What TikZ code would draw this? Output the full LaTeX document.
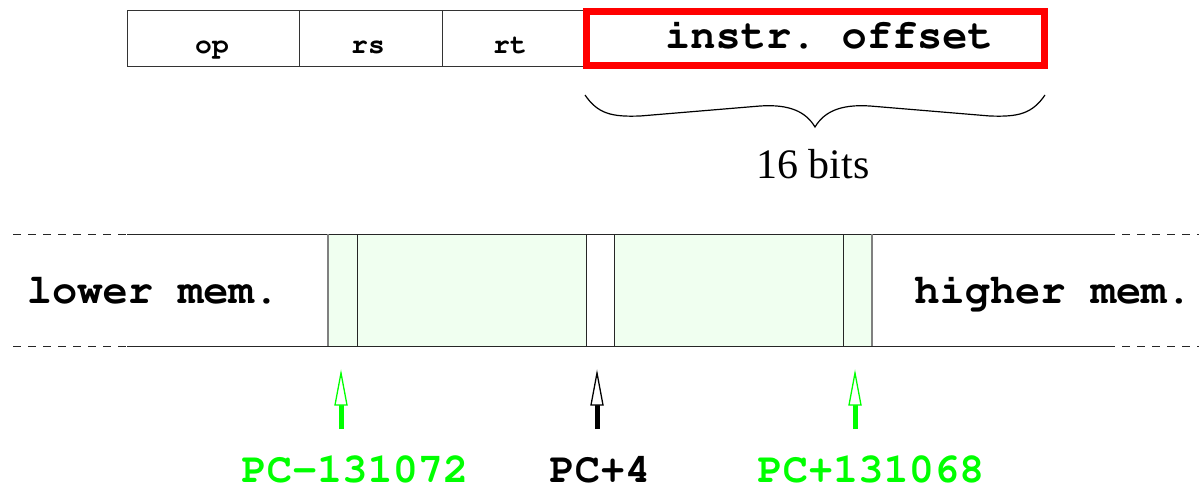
\documentclass[tikz,border=0pt]{standalone}
\usepackage[T1]{fontenc}
\usepackage{fontspec}
\setmainfont{Liberation Serif}
\newcommand\courbold{\fontencoding{T1}\fontfamily{pcr}\fontseries{b}\selectfont\frenchspacing}
\definecolor{pcgreen}{RGB}{0,255,0}
\definecolor{memfill}{RGB}{240,255,240}
\definecolor{edgegray}{gray}{0.5}

\begin{document}
\begin{tikzpicture}[x=1pt,y=-1pt,
  field/.style={draw=black!80, line width=0.8pt, minimum height=56pt, inner sep=0pt},
  fieldtext/.style={font=\courbold\fontsize{28}{30}\selectfont, anchor=base, inner sep=0pt},
  bigtext/.style={font=\courbold\fontsize{42}{46}\selectfont, anchor=base, inner sep=0pt},
  memline/.style={black!85, line width=0.8pt},
  memdash/.style={black!85, line width=0.8pt, dash pattern=on 8pt off 7pt},
  divider/.style={black!85, line width=0.8pt},
  outerdivider/.style={edgegray, line width=1.2pt},
]
\useasboundingbox (0,0) rectangle (1199,490);

% instruction word
\node[field, minimum width=172pt] (op) at (213,38) {};
\node[field, minimum width=143pt] (rs) at (370.5,38) {};
\node[field, minimum width=141pt] (rt) at (512.5,38) {};
\node[fieldtext] (optxt) at (212,53) {op};
\node[fieldtext] (rstxt) at (368,53) {rs};
\node[fieldtext] (rttxt) at (510,53) {rt};
\node[draw=red, line width=7pt, minimum width=458pt, minimum height=54pt, inner sep=0pt] (off) at (815,38) {};
\node[bigtext] (offtxt) at (829,48) {instr. offset};

% brace under the offset field
\draw[line width=1.2pt] (585,95) .. controls (598,114) and (612,117) .. (640,116)
  -- (760,106) .. controls (790,104) and (806,112) .. (815,127)
  .. controls (824,112) and (840,104) .. (870,106)
  -- (990,116) .. controls (1018,117) and (1032,114) .. (1045,95);
\node[font=\fontsize{42}{46}\selectfont, anchor=base, inner sep=0pt] (bits) at (813,178) {16 bits};

% memory strip
\fill[memfill] (328,234) rectangle (586,346);
\fill[memfill] (614,234) rectangle (872,346);
\draw[memdash] (13,234) -- (127,234);
\draw[memline] (127,234) -- (1107,234);
\draw[memdash] (1107,234) -- (1199,234);
\draw[memdash] (13,346) -- (127,346);
\draw[memline] (127,346) -- (1107,346);
\draw[memdash] (1107,346) -- (1199,346);
\draw[outerdivider] (328,234) -- (328,346);
\draw[outerdivider] (872,234) -- (872,346);
\foreach \x in {357,586,614,843} \draw[divider] (\x,234) -- (\x,346);

\node[bigtext] (lower) at (153,303) {lower mem.};
\node[bigtext] (higher) at (1053,303) {higher mem.};

% branch targets
\node[bigtext, text=pcgreen] (pcmin) at (355,482) {PC-131072};
\node[bigtext, text=black] (pcnext) at (600,482) {PC+4};
\node[bigtext, text=pcgreen] (pcmax) at (871,482) {PC+131068};

\foreach \x/\c in {341/pcgreen, 597/black, 855/pcgreen} {
  \coordinate (tail) at (\x,429);
  \coordinate (tip) at (\x,373);
  \draw[\c, line width=5pt] (tail) -- (\x,404);
  \draw[\c, fill=white, line width=1.3pt, line join=miter] (\x-6,405) -- (tip) -- (\x+6,405) -- cycle;
}
\end{tikzpicture}
\end{document}
